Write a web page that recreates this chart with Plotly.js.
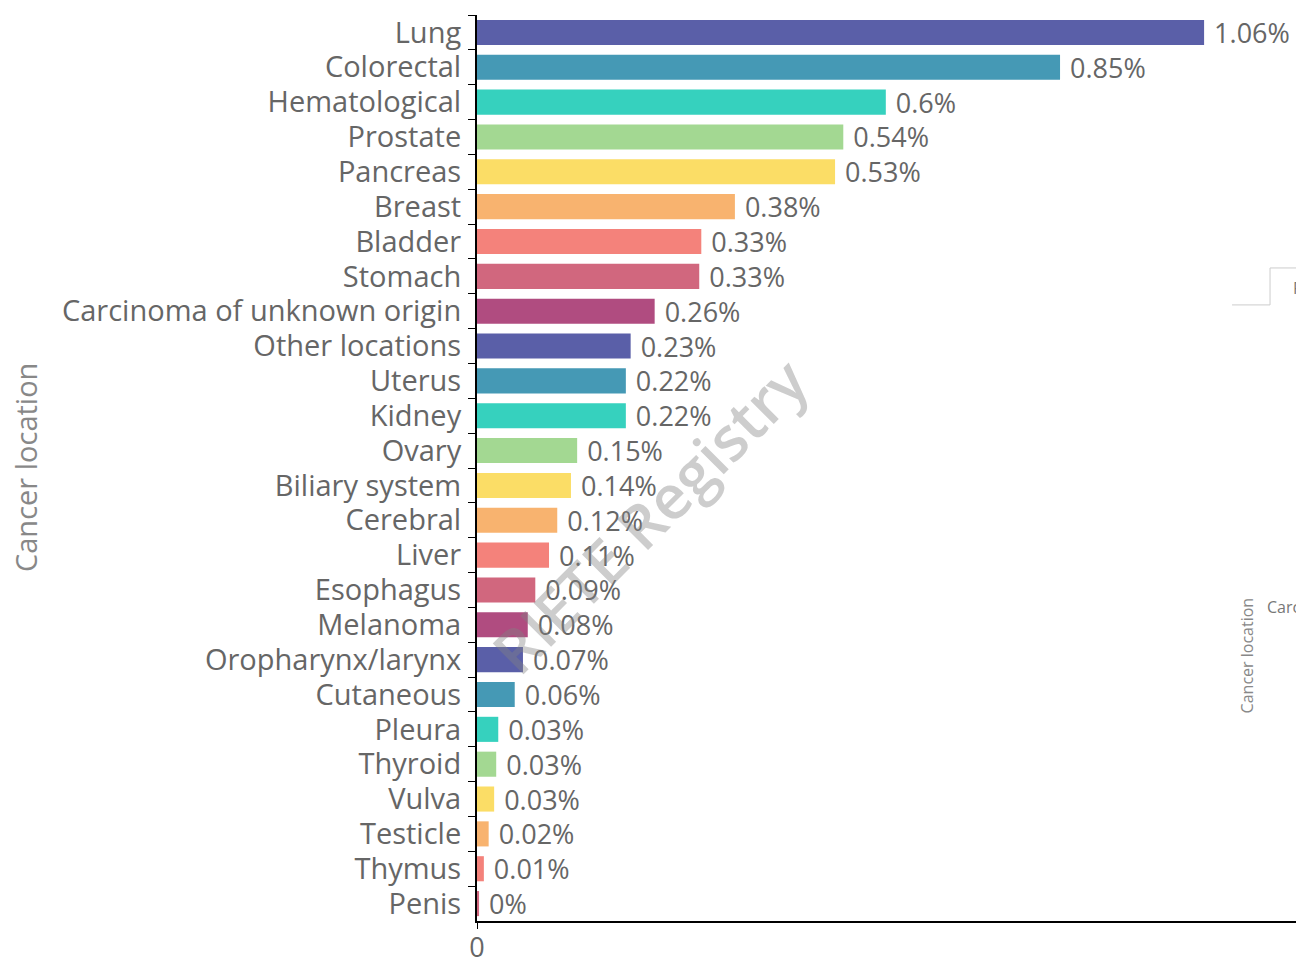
<!DOCTYPE html>
<html>
<head>
<meta charset="utf-8">
<script src="https://cdn.plot.ly/plotly-3.0.1.min.js"></script>
<style>html,body{margin:0;padding:0;background:#fff;}#chart{width:1296px;height:959px;}</style>
</head>
<body>
<div id="chart"></div>
<script>
const categories = ["Lung","Colorectal","Hematological","Prostate","Pancreas","Breast","Bladder","Stomach","Carcinoma of unknown origin","Other locations","Uterus","Kidney","Ovary","Biliary system","Cerebral","Liver","Esophagus","Melanoma","Oropharynx/larynx","Cutaneous","Pleura","Thyroid","Vulva","Testicle","Thymus","Penis"];
const values = [1.06,0.85,0.596,0.534,0.522,0.376,0.327,0.324,0.259,0.224,0.217,0.217,0.146,0.137,0.117,0.105,0.085,0.074,0.067,0.055,0.031,0.028,0.025,0.017,0.010,0.003];
const valueLabels = ["1.06%","0.85%","0.6%","0.54%","0.53%","0.38%","0.33%","0.33%","0.26%","0.23%","0.22%","0.22%","0.15%","0.14%","0.12%","0.11%","0.09%","0.08%","0.07%","0.06%","0.03%","0.03%","0.03%","0.02%","0.01%","0%"];
const palette = ["#5a5fa8","#4599b5","#36d1be","#a3d892","#fbdd66","#f8b36f","#f4827b","#d1677e","#b04c80"];
const colors = categories.map((c,i)=>palette[i%palette.length]);

const font = "Open Sans, Noto Sans, sans-serif";
const trace = {
  type: "bar",
  orientation: "h",
  x: values,
  y: categories,
  text: valueLabels,
  texttemplate: " %{text}",
  textposition: "outside",
  constraintext: "none",
  cliponaxis: false,
  textfont: {family: font, size: 27, color: "#666"},
  marker: {color: colors},
  hoverinfo: "none"
};
const layout = {
  width: 1296, height: 959,
  margin: {l: 477, r: 0, t: 15, b: 38},
  paper_bgcolor: "#fff", plot_bgcolor: "#fff",
  showlegend: false,
  bargap: 0.28,
  font: {family: font, color: "#666"},
  xaxis: {
    range: [0, 1.194], showgrid: false, zeroline: false,
    showline: true, linecolor: "#000", linewidth: 2,
    tickvals: [0], ticktext: ["0"], ticks: "outside", ticklen: 6, tickcolor: "#000",
    ticklabelstandoff: -4,
    tickfont: {family: font, size: 27, color: "#666"}
  },
  yaxis: {
    autorange: "reversed", showgrid: false, zeroline: false,
    showline: true, linecolor: "#000", linewidth: 2,
    tickmode: "linear", tick0: 0, dtick: 1,
    ticks: "outside", ticklen: 7, tickcolor: "#000", tickson: "boundaries",
    ticklabelstandoff: 8,
    tickfont: {family: font, size: 29, color: "#666"}
  },
  annotations: [
    {text: "Cancer location", xref: "paper", yref: "paper", x: -0.552, y: 0.501, textangle: -90,
     showarrow: false, xanchor: "center", yanchor: "middle", font: {family: font, size: 29, color: "#888"}},
    {text: "RIETE Registry", xref: "paper", yref: "paper", x: 0.21, y: 0.448, textangle: -45,
     showarrow: false, xanchor: "center", yanchor: "middle", font: {family: font, size: 61, weight: 600, color: "rgba(130,130,130,0.4)"}},
    {text: "Cancer location", xref: "paper", yref: "paper", x: 0.940, y: 0.293, textangle: -90,
     showarrow: false, xanchor: "center", yanchor: "middle", font: {family: font, size: 16, color: "#888"}},
    {text: "Carc", xref: "paper", yref: "paper", x: 0.962, y: 0.347,
     showarrow: false, xanchor: "left", yanchor: "middle", font: {family: font, size: 16, color: "#777"}},
    {text: "P", xref: "paper", yref: "paper", x: 0.994, y: 0.699,
     showarrow: false, xanchor: "left", yanchor: "middle", font: {family: font, size: 16, color: "#777"}}
  ],
  shapes: [
    {type: "path", xref: "paper", yref: "paper",
     path: "M 0.9219 0.680 L 0.9683 0.680 L 0.9683 0.7208 L 1.0 0.7208",
     line: {color: "#ccc", width: 1}}
  ]
};
Plotly.newPlot("chart", [trace], layout, {staticPlot: true, displayModeBar: false});
</script>
</body>
</html>
